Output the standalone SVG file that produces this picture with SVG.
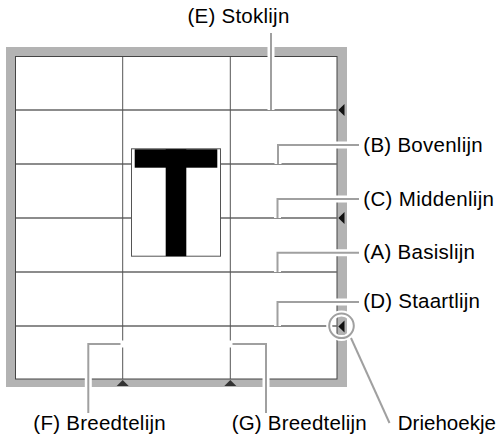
<svg xmlns="http://www.w3.org/2000/svg" width="499" height="437" viewBox="0 0 499 437">
<style>
text{font-family:"Liberation Sans",Arial,Helvetica,sans-serif;font-size:20.5px;fill:#000}
.grid-h{stroke:#666;stroke-width:1.3;fill:none}
.grid-v{stroke:#555;stroke-width:1;fill:none}
.halo{stroke:#fff;stroke-width:7;fill:none;stroke-linecap:butt}
.lead{stroke:#a0a0a0;stroke-width:2;fill:none}
.tri{fill:#111}
.btri{fill:#333}
</style>
<rect width="499" height="437" fill="#fff"/>
<g id="frame">
<rect x="6" y="47" width="341" height="340" fill="#b3b3b3"/>
<rect x="15.5" y="56.5" width="321.5" height="322.5" fill="#fff" stroke="#444" stroke-width="1"/>
</g>
<g id="grid">
<line class="grid-h" x1="16" y1="110" x2="337" y2="110"/>
<line class="grid-h" x1="16" y1="164" x2="337" y2="164"/>
<line class="grid-h" x1="16" y1="218" x2="337" y2="218"/>
<line class="grid-h" x1="16" y1="272" x2="337" y2="272"/>
<line class="grid-h" x1="16" y1="326" x2="337" y2="326"/>
<line class="grid-v" x1="122.7" y1="57" x2="122.7" y2="379"/>
<line class="grid-v" x1="230.3" y1="57" x2="230.3" y2="379"/>
</g>
<g id="glyph">
<rect x="131.5" y="148.8" width="89" height="107.4" fill="#fff" stroke="#555" stroke-width="1"/>
<rect x="134.7" y="149.3" width="82.6" height="18.4" fill="#000"/>
<rect x="165.7" y="149.3" width="20.6" height="106.9" fill="#000"/>
</g>
<g id="triangles">
<polygon class="tri" points="338.3,110 344.5,104 344.5,116"/>
<polygon class="tri" points="338.3,218 344.5,212 344.5,224"/>
<polygon class="btri" points="122.7,380 116.7,386 128.7,386"/>
<polygon class="btri" points="230.3,380 224.3,386 236.3,386"/>
</g>
<g id="connectors">
<polyline class="halo" points="271,33 271,110"/>
<polyline class="halo" points="278,164 278,145 359,145"/>
<polyline class="halo" points="277.5,218 277.5,199 359,199"/>
<polyline class="halo" points="277.5,272 277.5,252.7 359,252.7"/>
<polyline class="halo" points="277.5,326 277.5,302 359,302"/>
<polyline class="halo" points="124,344 88.3,344 88.3,413" style="stroke-linecap:square"/>
<polyline class="halo" points="229,344 266,344 266,413" style="stroke-linecap:square"/>
<circle cx="341.5" cy="325.8" r="12.3" fill="none" stroke="#fff" stroke-width="6"/>
<line class="lead" x1="271" y1="33" x2="271" y2="110"/>
<polyline class="lead" points="278,164 278,145 359,145"/>
<polyline class="lead" points="277.5,218 277.5,199 359,199"/>
<polyline class="lead" points="277.5,272 277.5,252.7 359,252.7"/>
<polyline class="lead" points="277.5,326 277.5,302 359,302"/>
<polyline class="lead" points="120.5,344 88.3,344 88.3,413"/>
<polyline class="lead" points="232.5,344 266,344 266,413"/>
<line class="lead" x1="351" y1="338" x2="389.5" y2="423"/>
</g>
<g id="driehoekje-marker">
<polygon class="tri" points="338.3,326.5 344.5,320.5 344.5,332.5"/>
<circle cx="341.5" cy="325.8" r="12.3" fill="none" stroke="#a0a0a0" stroke-width="2"/>
</g>
<g id="labels">
<text x="187.5" y="23.3" textLength="101.8" lengthAdjust="spacing">(E) Stoklijn</text>
<text x="363.3" y="152" textLength="119.4" lengthAdjust="spacing">(B) Bovenlijn</text>
<text x="363.3" y="206" textLength="130.7" lengthAdjust="spacing">(C) Middenlijn</text>
<text x="363.3" y="258.5" textLength="111.7" lengthAdjust="spacing">(A) Basislijn</text>
<text x="363.3" y="308" textLength="116.7" lengthAdjust="spacing">(D) Staartlijn</text>
<text x="33.3" y="430" textLength="132.4" lengthAdjust="spacing">(F) Breedtelijn</text>
<text x="231.7" y="430" textLength="135" lengthAdjust="spacing">(G) Breedtelijn</text>
<text x="397.7" y="430" textLength="98.3" lengthAdjust="spacing">Driehoekje</text>
</g>
</svg>
